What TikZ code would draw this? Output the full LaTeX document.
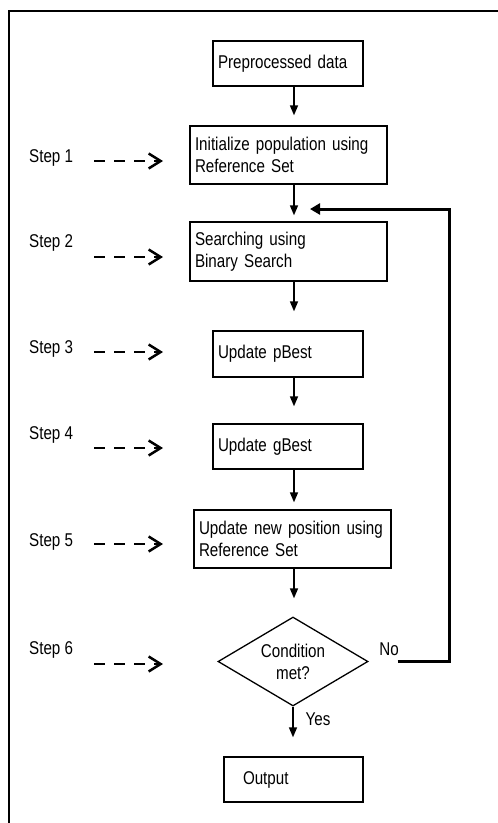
\documentclass[tikz,border=0pt]{standalone}
\usepackage{fontspec}
\setmainfont{Liberation Sans}[FakeStretch=0.82]
\usetikzlibrary{arrows.meta,shapes.geometric}

\begin{document}
\begin{tikzpicture}[x=1pt, y=-1pt,
  font=\fontsize{18.5}{22}\selectfont,
  box/.style = {draw, line width=1.3pt, rectangle, align=left, inner xsep=5pt, inner ysep=0pt},
  cond/.style = {draw, line width=1.3pt, diamond, aspect=1.7, inner sep=0pt, minimum width=150pt, minimum height=89pt, align=center},
  stepname/.style = {anchor=west, inner sep=0pt},
  lbl/.style = {inner sep=0pt},
  flow/.style = {line width=1.6pt, -{Triangle[length=10pt,width=8pt]}},
  back/.style = {line width=3pt, -{Triangle[length=10pt,width=11pt]}},
  dasharr/.style = {line width=2.5pt, dash pattern=on 11pt off 9pt, -{Straight Barb[length=12pt,width=15pt]}}
]
\useasboundingbox (0,0) rectangle (498,823);

% frame
\draw[line width=2pt] (9,823) -- (9,11) -- (498,11);

\node[box, text width=140pt, minimum height=45pt] (data) at (288,63.5) {Preprocessed data};
\node[box, text width=187pt, minimum height=58pt] (init) at (288.5,155) {Initialize population using\\Reference Set};
\node[box, text width=187pt, minimum height=59pt] (search) at (288.5,251.5) {Searching using\\Binary Search};
\node[box, text width=140pt, minimum height=46pt] (pbest) at (288,354) {Update pBest\\[4pt]};
\node[box, text width=140pt, minimum height=45pt] (gbest) at (288,446.5) {Update gBest};
\node[box, text width=187pt, minimum height=58pt] (update) at (292.5,539) {Update new position using\\Reference Set};
\node[cond] (cond) at (293,661.5) {Condition\\met?};
\node[box, text width=101pt, inner xsep=19pt, minimum height=45pt] (output) at (293.5,779.5) {Output};

\node[lbl] (yes) at (318,719) {Yes};
\node[lbl] (no) at (389,649) {No};

\coordinate (spine) at (294,0);
\coordinate (turn) at (449,209);
\coordinate (join) at (294,209);

\draw[flow, shorten >=10pt] (data.south -| spine) -- (init.north -| spine);
\draw[flow, shorten >=6pt] (init.south -| spine) -- (search.north -| spine);
\draw[flow, shorten >=19pt] (search.south -| spine) -- (pbest.north -| spine);
\draw[flow, shorten >=17pt] (pbest.south -| spine) -- (gbest.north -| spine);
\draw[flow, shorten >=7pt] (gbest.south -| spine) -- (update.north -| spine);
\draw[flow, shorten >=18pt] (update.south -| spine) -- (cond.north -| spine);
\draw[flow, shorten >=19pt] (cond.south) -- (output.north -| cond.south);

\draw[back, shorten <=29pt, shorten >=16pt] (cond.east) -| (turn) -- (join);

% steps
\node[stepname] (s1) at (29,158) {Step 1};
\node[stepname] (s2) at (29,243) {Step 2};
\node[stepname] (s3) at (29,349) {Step 3};
\node[stepname] (s4) at (29,435) {Step 4};
\node[stepname] (s5) at (29,542) {Step 5};
\node[stepname] (s6) at (29,650) {Step 6};

\coordinate (s1a) at (94,161);
\coordinate (s1b) at (163,161);
\coordinate (s2a) at (94,257);
\coordinate (s2b) at (163,257);
\coordinate (s3a) at (94,352);
\coordinate (s3b) at (163,352);
\coordinate (s4a) at (94,448);
\coordinate (s4b) at (163,448);
\coordinate (s5a) at (94,544);
\coordinate (s5b) at (163,544);
\coordinate (s6a) at (94,664);
\coordinate (s6b) at (163,664);

\draw[dasharr] (s1a) -- (s1b);
\draw[dasharr] (s2a) -- (s2b);
\draw[dasharr] (s3a) -- (s3b);
\draw[dasharr] (s4a) -- (s4b);
\draw[dasharr] (s5a) -- (s5b);
\draw[dasharr] (s6a) -- (s6b);

\end{tikzpicture}
\end{document}
